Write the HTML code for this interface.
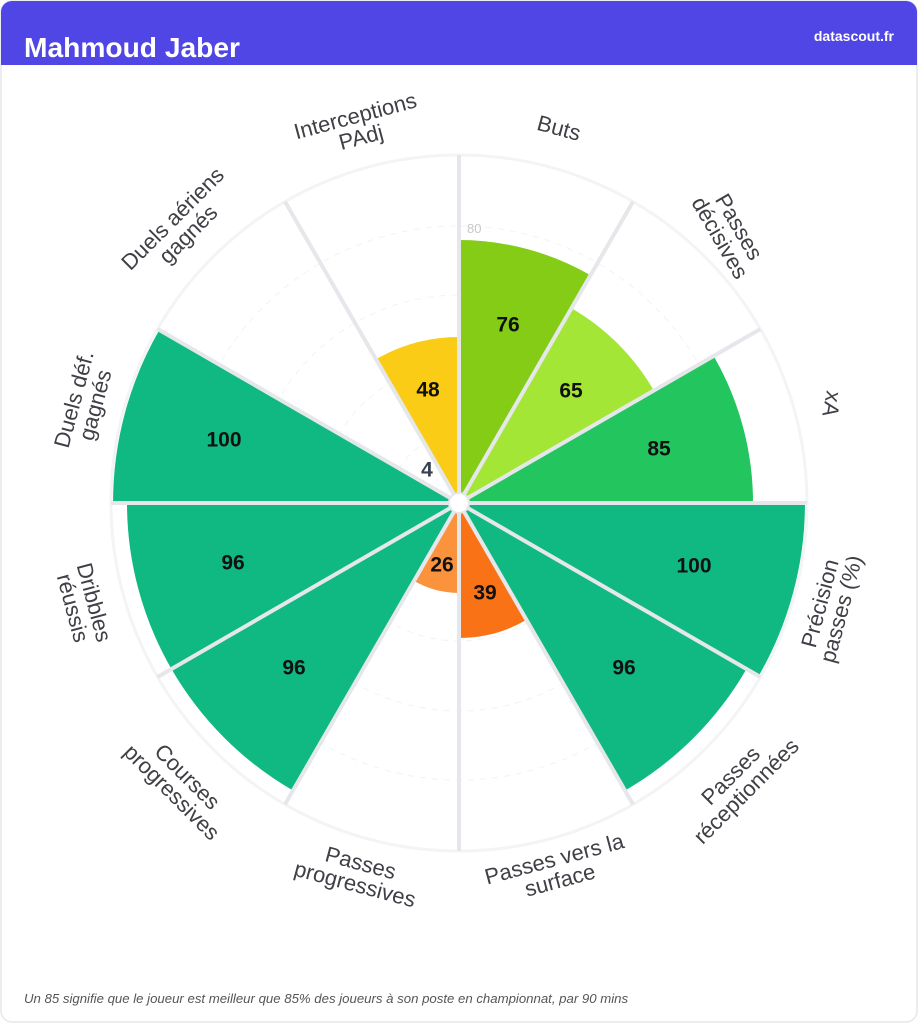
<!DOCTYPE html>
<html><head><meta charset="utf-8"><style>
html,body{margin:0;padding:0;background:#fff;}
body{width:918px;height:1024px;overflow:hidden;font-family:"Liberation Sans",sans-serif;}
</style></head><body>
<svg width="918" height="1024" viewBox="0 0 918 1024" xmlns="http://www.w3.org/2000/svg" font-family="Liberation Sans, sans-serif">
<rect x="1" y="1" width="916" height="1021" rx="11" fill="#fff" stroke="#e5e7eb" stroke-width="1.5"/>
<path d="M1 65 V12 A11 11 0 0 1 12 1 H906 A11 11 0 0 1 917 12 V65 Z" fill="#5046e5"/>
<text x="24" y="57" fill="#fff" font-size="28" font-weight="bold" textLength="216" lengthAdjust="spacingAndGlyphs">Mahmoud Jaber</text>
<text x="894" y="41" fill="#fff" font-size="14" font-weight="bold" text-anchor="end">datascout.fr</text>

<g transform="translate(459,503)">
<circle r="348" fill="none" stroke="#f3f4f6" stroke-width="3"/>
<g fill="none" stroke="#f2f2f2" stroke-width="1" stroke-dasharray="6 6">
<circle r="69"/><circle r="138"/><circle r="208"/><circle r="277"/>
</g>
<path transform="rotate(15)" d="M0 0 L-68.1 -254 A263 263 0 0 1 68.1 -254 Z" fill="#84cc16"/>
<path transform="rotate(45)" d="M0 0 L-58.2 -217.3 A225 225 0 0 1 58.2 -217.3 Z" fill="#a3e635"/>
<path transform="rotate(75)" d="M0 0 L-76.1 -284 A294 294 0 0 1 76.1 -284 Z" fill="#22c55e"/>
<path transform="rotate(105)" d="M0 0 L-89.5 -334.2 A346 346 0 0 1 89.5 -334.2 Z" fill="#10b981"/>
<path transform="rotate(135)" d="M0 0 L-85.9 -320.7 A332 332 0 0 1 85.9 -320.7 Z" fill="#10b981"/>
<path transform="rotate(165)" d="M0 0 L-34.9 -130.4 A135 135 0 0 1 34.9 -130.4 Z" fill="#f97316"/>
<path transform="rotate(195)" d="M0 0 L-23.3 -86.9 A90 90 0 0 1 23.3 -86.9 Z" fill="#fb923c"/>
<path transform="rotate(225)" d="M0 0 L-85.9 -320.7 A332 332 0 0 1 85.9 -320.7 Z" fill="#10b981"/>
<path transform="rotate(255)" d="M0 0 L-85.9 -320.7 A332 332 0 0 1 85.9 -320.7 Z" fill="#10b981"/>
<path transform="rotate(285)" d="M0 0 L-89.5 -334.2 A346 346 0 0 1 89.5 -334.2 Z" fill="#10b981"/>
<path transform="rotate(345)" d="M0 0 L-43 -160.3 A166 166 0 0 1 43 -160.3 Z" fill="#facc15"/>
<g stroke="#e5e7eb" stroke-width="4">
<line x1="0" y1="0" x2="0" y2="-348"/>
<line x1="0" y1="0" x2="0" y2="-348" transform="rotate(30)"/>
<line x1="0" y1="0" x2="0" y2="-348" transform="rotate(60)"/>
<line x1="0" y1="0" x2="0" y2="-348" transform="rotate(90)"/>
<line x1="0" y1="0" x2="0" y2="-348" transform="rotate(120)"/>
<line x1="0" y1="0" x2="0" y2="-348" transform="rotate(150)"/>
<line x1="0" y1="0" x2="0" y2="-348" transform="rotate(180)"/>
<line x1="0" y1="0" x2="0" y2="-348" transform="rotate(210)"/>
<line x1="0" y1="0" x2="0" y2="-348" transform="rotate(240)"/>
<line x1="0" y1="0" x2="0" y2="-348" transform="rotate(270)"/>
<line x1="0" y1="0" x2="0" y2="-348" transform="rotate(300)"/>
<line x1="0" y1="0" x2="0" y2="-348" transform="rotate(330)"/>
</g>
<circle r="10" fill="#fff" stroke="#e5e7eb" stroke-width="2"/>
<text x="8" y="-270" fill="#c8c8c8" font-size="13">80</text>
</g>

<g font-size="21" font-weight="bold" fill="#111" text-anchor="middle" dominant-baseline="central">
<text x="508" y="325">76</text>
<text x="571" y="391">65</text>
<text x="659" y="449">85</text>
<text x="694" y="566">100</text>
<text x="624" y="668">96</text>
<text x="485" y="593">39</text>
<text x="442" y="565">26</text>
<text x="294" y="668">96</text>
<text x="233" y="563">96</text>
<text x="224" y="440">100</text>
<text x="427" y="470" fill="#374151">4</text>
<text x="428" y="390">48</text>
</g>

<g font-size="22" fill="#3f3f46" text-anchor="middle" dominant-baseline="central">
<text transform="translate(559,128) rotate(15)">Buts</text>
<text transform="translate(730,232) rotate(60)"><tspan x="0" y="-11">Passes</tspan><tspan x="0" y="11">décisives</tspan></text>
<text transform="translate(832,404) rotate(100)">xA</text>
<text transform="translate(830,606) rotate(-75)"><tspan x="0" y="-11">Précision</tspan><tspan x="0" y="11">passes (%)</tspan></text>
<text transform="translate(738,783) rotate(-45)"><tspan x="0" y="-11">Passes</tspan><tspan x="0" y="11">réceptionnées</tspan></text>
<text transform="translate(557,869) rotate(-15)"><tspan x="0" y="-11">Passes vers la</tspan><tspan x="0" y="11">surface</tspan></text>
<text transform="translate(358,873) rotate(15)"><tspan x="0" y="-11">Passes</tspan><tspan x="0" y="11">progressives</tspan></text>
<text transform="translate(180,784) rotate(45)"><tspan x="0" y="-11">Courses</tspan><tspan x="0" y="11">progressives</tspan></text>
<text transform="translate(84,605) rotate(75)"><tspan x="0" y="-11">Dribbles</tspan><tspan x="0" y="11">réussis</tspan></text>
<text transform="translate(84,402) rotate(-75)"><tspan x="0" y="-11">Duels déf.</tspan><tspan x="0" y="11">gagnés</tspan></text>
<text transform="translate(180,226) rotate(-45)"><tspan x="0" y="-11">Duels aériens</tspan><tspan x="0" y="11">gagnés</tspan></text>
<text transform="translate(358,126) rotate(-15)"><tspan x="0" y="-11">Interceptions</tspan><tspan x="0" y="11">PAdj</tspan></text>
</g>

<text x="24" y="1003" font-size="13.2" font-style="italic" fill="#555">Un 85 signifie que le joueur est meilleur que 85% des joueurs à son poste en championnat, par 90 mins</text>
</svg>
</body></html>
